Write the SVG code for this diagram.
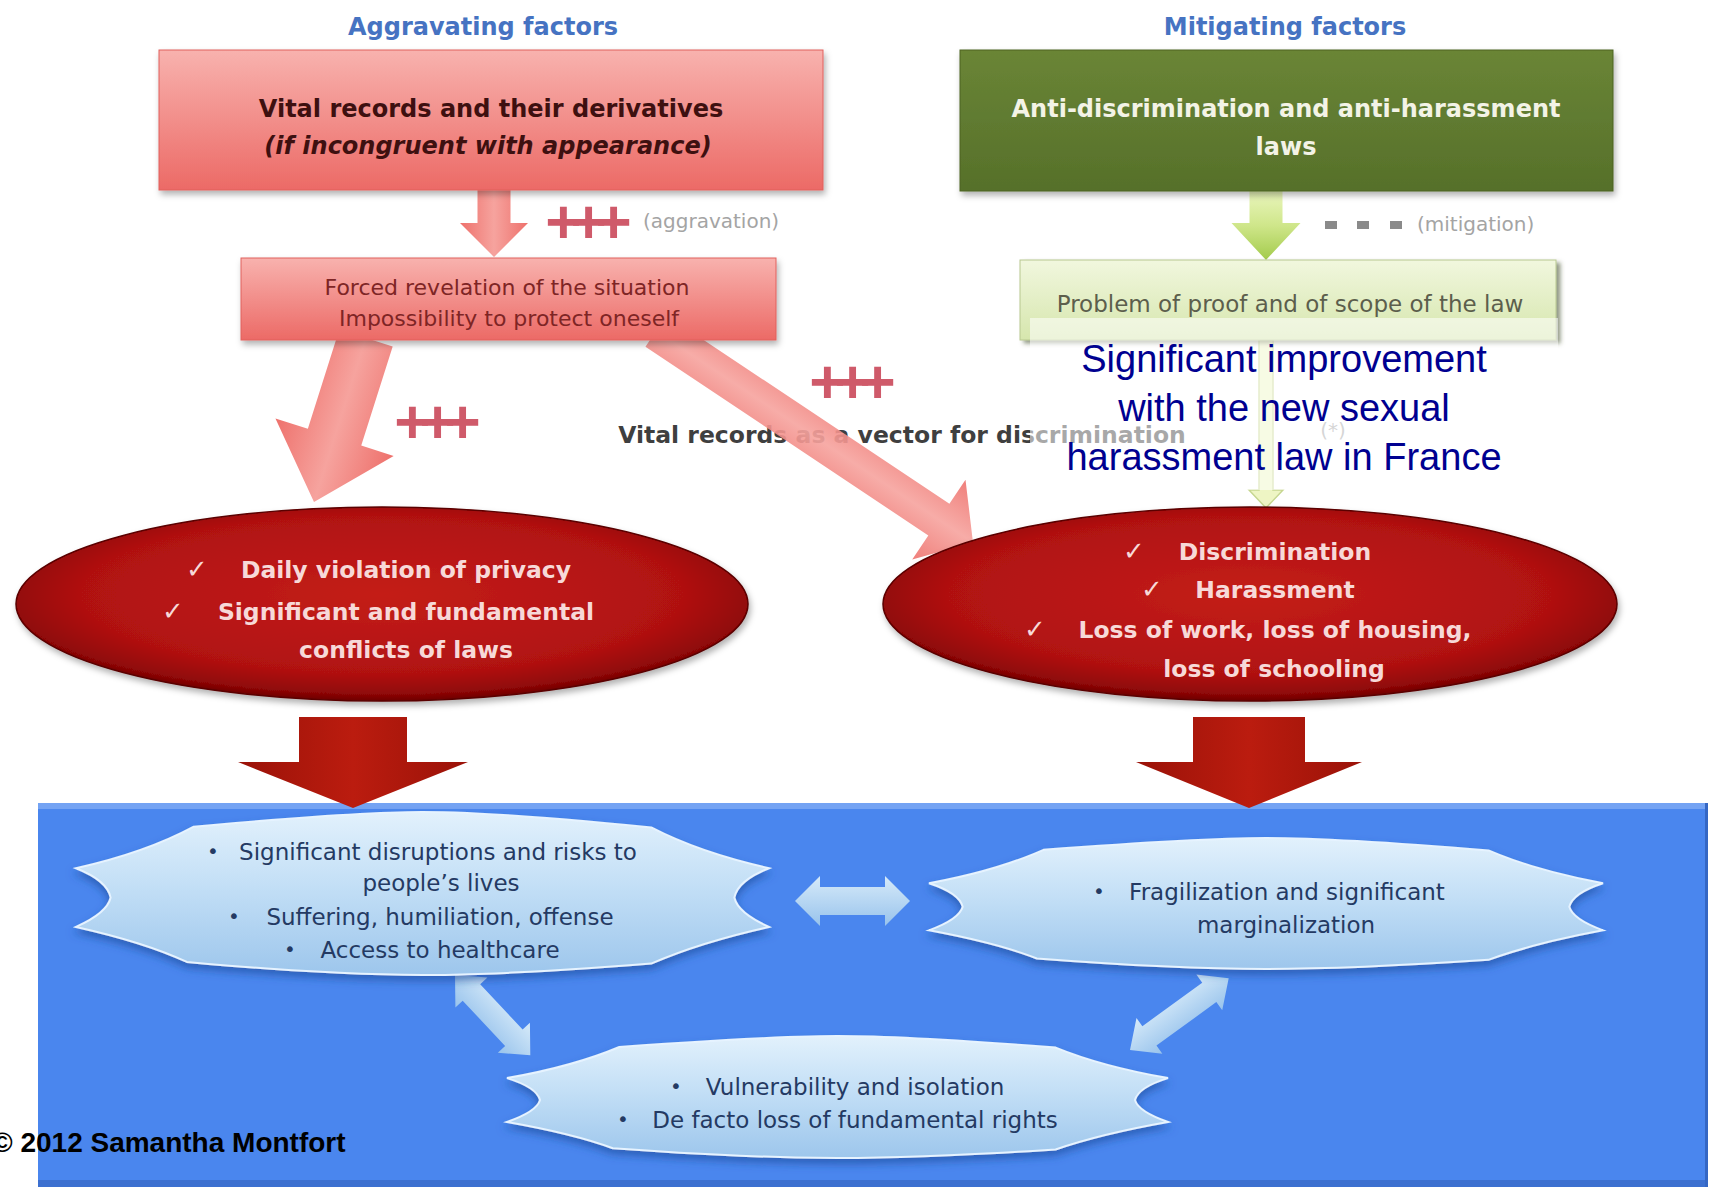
<svg xmlns="http://www.w3.org/2000/svg" xmlns:xlink="http://www.w3.org/1999/xlink" width="1711" height="1187" viewBox="0 0 1711 1187">
<defs>
<style>
.title{font-family:"DejaVu Sans","Liberation Sans",sans-serif;font-weight:bold;font-size:24px;fill:#4673c2;text-anchor:middle}
.box1{font-family:"DejaVu Sans",sans-serif;font-weight:bold;font-size:24px;fill:#3e1010;text-anchor:middle}
.box2{font-family:"DejaVu Sans",sans-serif;font-size:22px;fill:#7e2525;text-anchor:middle}
.green{font-family:"DejaVu Sans",sans-serif;font-weight:bold;font-size:24px;fill:#f3f3e6;text-anchor:middle}
.lg{font-family:"DejaVu Sans",sans-serif;font-size:23px;fill:#5c5e4c;text-anchor:middle}
.ell{font-family:"DejaVu Sans",sans-serif;font-weight:bold;font-size:23.5px;fill:#f7d9d8;text-anchor:middle}
.chk{font-family:"DejaVu Sans",sans-serif;font-weight:bold;font-size:26px;fill:#f7d9d8;text-anchor:middle}
.seal{font-family:"DejaVu Sans",sans-serif;font-size:23px;fill:#243a63;text-anchor:middle}
.bul{font-family:"DejaVu Sans",sans-serif;font-size:20px;fill:#243a63;text-anchor:middle}
.plus{font-family:"Liberation Sans",sans-serif;font-weight:bold;font-size:62px;fill:#cf5a6a;letter-spacing:-11px;text-anchor:middle}
.gray{font-family:"DejaVu Sans",sans-serif;font-size:20px;fill:#a4a4a4}
.vec{font-family:"DejaVu Sans",sans-serif;font-weight:bold;font-size:23.5px;fill:#3f3f3f;text-anchor:middle}
.note{font-family:"Liberation Sans",sans-serif;font-size:38px;fill:#000090;text-anchor:middle}
.copy{font-family:"Liberation Sans",sans-serif;font-weight:bold;font-size:28px;fill:#000}
.pinkArrow{fill:url(#pinkAcross)}
.redArrow{fill:url(#redAcross)}
.blueArrow{fill:url(#blueAcross)}
</style>
<linearGradient id="pinkBox" x1="0" y1="0" x2="0" y2="1">
<stop offset="0" stop-color="#f8b2ae"/><stop offset="1" stop-color="#ec6a66"/>
</linearGradient>
<linearGradient id="greenBox" x1="0" y1="0" x2="0" y2="1">
<stop offset="0" stop-color="#6a8536"/><stop offset="1" stop-color="#56702a"/>
</linearGradient>
<linearGradient id="lgBox" x1="0" y1="0" x2="0" y2="1">
<stop offset="0" stop-color="#f1f7de"/><stop offset="1" stop-color="#d6e6ad"/>
</linearGradient>
<linearGradient id="pinkAcross" x1="0" y1="0" x2="0" y2="1">
<stop offset="0" stop-color="#ee716c"/><stop offset="0.5" stop-color="#f6a39e"/><stop offset="1" stop-color="#ee716c"/>
</linearGradient>
<linearGradient id="redAcross" x1="0" y1="0" x2="0" y2="1">
<stop offset="0" stop-color="#9a1208"/><stop offset="0.5" stop-color="#bb1c0f"/><stop offset="1" stop-color="#9a1208"/>
</linearGradient>
<linearGradient id="greenAlong" x1="0" y1="0" x2="1" y2="0">
<stop offset="0" stop-color="#eaf6bd"/><stop offset="0.5" stop-color="#cfe68a"/><stop offset="1" stop-color="#a3cb4c"/>
</linearGradient>
<linearGradient id="blueAcross" x1="0" y1="0" x2="0" y2="1">
<stop offset="0" stop-color="#d6eaf9"/><stop offset="1" stop-color="#98c3ec"/>
</linearGradient>
<linearGradient id="sealFill" x1="0" y1="0" x2="0" y2="1">
<stop offset="0" stop-color="#e2f1fc"/><stop offset="0.45" stop-color="#c3dff6"/><stop offset="1" stop-color="#9dc6ec"/>
</linearGradient>
<radialGradient id="ellFill" cx="0.5" cy="0.45" r="0.55">
<stop offset="0" stop-color="#c41e19"/><stop offset="0.75" stop-color="#b01111"/><stop offset="0.93" stop-color="#900707"/><stop offset="1" stop-color="#6e0303"/>
</radialGradient>
<filter id="shadow" x="-10%" y="-20%" width="120%" height="150%">
<feDropShadow dx="2" dy="4" stdDeviation="3" flood-color="#000" flood-opacity="0.3"/>
</filter>
<filter id="shadowR" x="-10%" y="-20%" width="120%" height="150%">
<feDropShadow dx="4" dy="3" stdDeviation="2" flood-color="#4a5530" flood-opacity="0.6"/>
</filter>
<filter id="sealShadow" x="-10%" y="-20%" width="120%" height="150%">
<feDropShadow dx="0" dy="5" stdDeviation="4" flood-color="#1d4c9c" flood-opacity="0.65"/>
</filter>
<path id="seal" d="M170,90 C300,40 420,0 500,0 C580,0 700,40 830,95 Q900,250 1000,345 Q955,420 950,525 Q955,620 1000,705 Q900,800 830,930 C700,975 580,1000 500,1000 C420,1000 300,975 160,920 Q100,800 0,705 Q45,620 50,525 Q45,420 0,345 Q100,250 170,90 Z" fill="url(#sealFill)" stroke="#e6f3ff" stroke-width="2" vector-effect="non-scaling-stroke"/>
</defs>

<rect x="0" y="0" width="1711" height="1187" fill="#ffffff"/>

<g id="panel">
<rect x="38" y="803" width="1670" height="384" fill="#4a86ee"/>
<rect x="38" y="803" width="1670" height="6" fill="#74a3f3"/>
<rect x="38" y="1180" width="1670" height="7" fill="#3c70d0"/>
<rect x="1705" y="803" width="3" height="384" fill="#3567c4"/>
</g>

<g id="connectors">
<text class="vec" x="902" y="443">Vital records as a vector for discrimination</text>
<text class="gray" x="1333" y="437" text-anchor="middle">(*)</text>
<polygon class="pinkArrow" transform="translate(494,190) rotate(90)" points="0,-16.5 33,-16.5 33,-34 67,0 33,34 33,16.5 0,16.5"/>
<text class="plus" x="583" y="243">+++</text>
<text class="gray" x="643" y="228">(aggravation)</text>
<polygon fill="url(#greenAlong)" transform="translate(1266,191) rotate(90)" points="0,-16.5 32,-16.5 32,-34.5 69,0 32,34.5 32,16.5 0,16.5"/>
<rect x="1325" y="221" width="12" height="8" fill="#8a8a8a"/>
<rect x="1357" y="221" width="12" height="8" fill="#8a8a8a"/>
<rect x="1390" y="221" width="12" height="8" fill="#8a8a8a"/>
<text class="gray" x="1417" y="231">(mitigation)</text>
<polygon class="pinkArrow" transform="translate(366,338) rotate(107.6)" points="0,-28 104,-28 104,-62 172,0 104,62 104,28 0,28"/>
<text class="plus" x="432" y="443">+++</text>
<polygon class="pinkArrow" opacity="0.9" transform="translate(656,331) rotate(33.7)" points="0,-19 340,-19 340,-48 381,0 340,48 340,19 0,19"/>
<text class="plus" x="847" y="403">+++</text>
<polygon fill="#eef5c4" stroke="#c6d690" stroke-width="1.5" transform="translate(1266,340) rotate(90)" points="0,-7 150,-7 150,-17 168,0 150,17 150,7 0,7"/>
<polygon class="redArrow" transform="translate(353,717) rotate(90)" points="0,-54 45,-54 45,-115 91,0 45,115 45,54 0,54"/>
<polygon class="redArrow" transform="translate(1249,717) rotate(90)" points="0,-56 45,-56 45,-113 91,0 45,113 45,56 0,56"/>
<polygon class="blueArrow" transform="translate(795,901)" points="0,0 25,-25 25,-14 90,-14 90,-25 115,0 90,25 90,14 25,14 25,25"/>
<polygon class="blueArrow" transform="translate(455,975) rotate(46.8)" points="0,0 24,-22 24,-12 86,-12 86,-22 110,0 86,22 86,12 24,12 24,22"/>
<polygon class="blueArrow" transform="translate(1130,1050) rotate(-36)" points="0,0 24,-22 24,-12 98,-12 98,-22 122,0 98,22 98,12 24,12 24,22"/>
</g>

<g id="title-aggravating">
<text class="title" x="483" y="35">Aggravating factors</text>
</g>
<g id="title-mitigating">
<text class="title" x="1285" y="35">Mitigating factors</text>
</g>

<g id="vital-records">
<rect x="159" y="50" width="664" height="140" fill="url(#pinkBox)" stroke="#e0605c" stroke-width="1" filter="url(#shadow)"/>
<text class="box1" x="491" y="117">Vital records and their derivatives</text>
<text class="box1" x="488" y="154" font-style="italic">(if incongruent with appearance)</text>
</g>

<g id="forced-revelation">
<rect x="241" y="258" width="535" height="82" fill="url(#pinkBox)" stroke="#e0605c" stroke-width="1" filter="url(#shadow)"/>
<text class="box2" x="507" y="295">Forced revelation of the situation</text>
<text class="box2" x="509" y="326">Impossibility to protect oneself</text>
</g>

<g id="anti-discrimination-laws">
<rect x="960" y="50" width="653" height="141" fill="url(#greenBox)" stroke="#4d6322" stroke-width="1" filter="url(#shadow)"/>
<text class="green" x="1286" y="117">Anti-discrimination and anti-harassment</text>
<text class="green" x="1286" y="155">laws</text>
</g>

<g id="problem-of-proof">
<rect x="1020" y="260" width="536" height="80" fill="url(#lgBox)" stroke="#b8c890" stroke-width="1" filter="url(#shadowR)"/>
<text class="lg" x="1290" y="312">Problem of proof and of scope of the law</text>
</g>

<g id="privacy-ellipse">
<ellipse cx="382" cy="604" rx="366" ry="97" fill="url(#ellFill)" stroke="#5a0000" stroke-width="1.5" filter="url(#shadow)"/>
<text class="chk" x="197" y="578">✓</text>
<text class="ell" x="406" y="578">Daily violation of privacy</text>
<text class="chk" x="173" y="620">✓</text>
<text class="ell" x="406" y="620">Significant and fundamental</text>
<text class="ell" x="406" y="658">conflicts of laws</text>
</g>

<g id="discrimination-ellipse">
<ellipse cx="1250" cy="604" rx="367" ry="97" fill="url(#ellFill)" stroke="#5a0000" stroke-width="1.5" filter="url(#shadow)"/>
<text class="chk" x="1134" y="560">✓</text>
<text class="ell" x="1275" y="560">Discrimination</text>
<text class="chk" x="1152" y="598">✓</text>
<text class="ell" x="1275" y="598">Harassment</text>
<text class="chk" x="1035" y="638">✓</text>
<text class="ell" x="1275" y="638">Loss of work, loss of housing,</text>
<text class="ell" x="1274" y="677">loss of schooling</text>
</g>

<g id="disruptions">
<g filter="url(#sealShadow)"><use xlink:href="#seal" transform="translate(76,812) scale(0.693,0.163)"/></g>
<text class="bul" x="213" y="858">•</text>
<text class="seal" x="438" y="860">Significant disruptions and risks to</text>
<text class="seal" x="441" y="891">people’s lives</text>
<text class="bul" x="234" y="923">•</text>
<text class="seal" x="440" y="925">Suffering, humiliation, offense</text>
<text class="bul" x="290" y="956">•</text>
<text class="seal" x="440" y="958">Access to healthcare</text>
</g>

<g id="fragilization">
<g filter="url(#sealShadow)"><use xlink:href="#seal" transform="translate(929,838) scale(0.674,0.131)"/></g>
<text class="bul" x="1099" y="898">•</text>
<text class="seal" x="1287" y="900">Fragilization and significant</text>
<text class="seal" x="1286" y="933">marginalization</text>
</g>

<g id="vulnerability">
<g filter="url(#sealShadow)"><use xlink:href="#seal" transform="translate(507,1036) scale(0.661,0.122)"/></g>
<text class="bul" x="676" y="1093">•</text>
<text class="seal" x="855" y="1095">Vulnerability and isolation</text>
<text class="bul" x="623" y="1126">•</text>
<text class="seal" x="855" y="1128">De facto loss of fundamental rights</text>
</g>

<g id="note">
<rect x="1030" y="318" width="528" height="172" fill="#ffffff" opacity="0.55"/>
<text class="note" x="1284" y="372">Significant improvement</text>
<text class="note" x="1284" y="421">with the new sexual</text>
<text class="note" x="1284" y="470">harassment law in France</text>
</g>

<g id="copyright">
<text class="copy" x="-8" y="1152">© 2012 Samantha Montfort</text>
</g>
</svg>
